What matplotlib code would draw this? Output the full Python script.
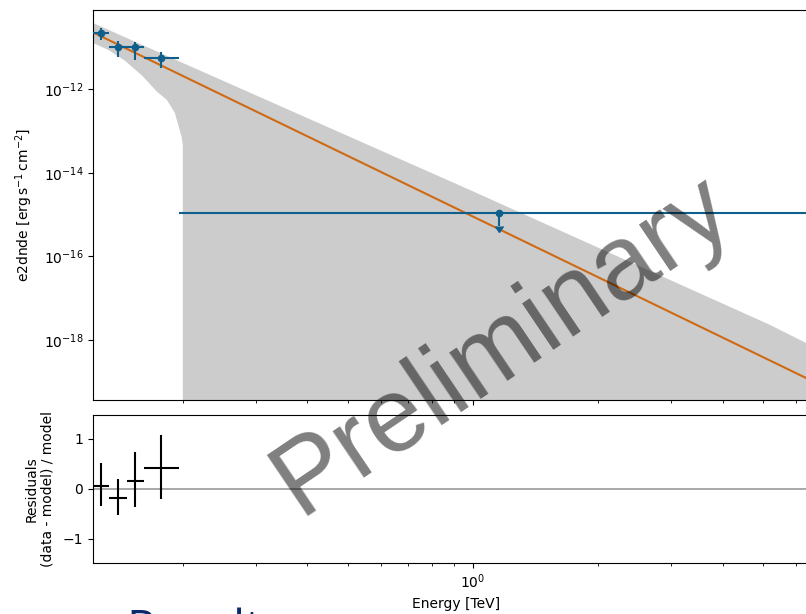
import matplotlib.pyplot as plt
import numpy as np

# flux point bins [TeV] and e2dnde values [erg s-1 cm-2]
e_min = np.array([0.1217, 0.1329, 0.1469, 0.1614])
e_max = np.array([0.1329, 0.1469, 0.1614, 0.1960])
e_ref = np.array([0.1272, 0.1397, 0.1540, 0.1779])
flux = np.array([2.19e-11, 1.01e-11, 1.04e-11, 5.53e-12])
flux_errp = np.array([0.70e-11, 0.43e-11, 0.30e-11, 2.43e-12])
flux_errn = np.array([0.67e-11, 0.41e-11, 0.54e-11, 2.35e-12])

# upper limit bin
ul_emin, ul_eref, ul_emax = 0.1960, 1.157, 6.83
ul_flux = 1.07e-15

# best-fit model and error butterfly
model_energy = np.array([0.1217, 6.83])
model_flux = np.array([2.3e-11, 8.6e-20])
band_up_energy = np.array([0.1217, 0.1971, 0.985, 5.21, 6.83])
band_up = np.array([3.87e-11, 4.58e-12, 3.87e-15, 2.26e-18, 5.86e-19])
band_lo_energy = np.array([0.1217, 0.1330, 0.1450, 0.1600, 0.1735, 0.1834, 0.1917,
                           0.1990, 0.2003, 0.2003, 6.83])
band_lo = np.array([1.29e-11, 8.6e-12, 4.9e-12, 2.1e-12, 8.77e-13, 5.54e-13, 2.70e-13,
                    7.2e-14, 4.6e-14, 1e-30, 1e-30])

# residuals (data - model) / model
resid = np.array([0.07, -0.18, 0.17, 0.43])
resid_errp = np.array([0.46, 0.38, 0.57, 0.66])
resid_errn = np.array([0.40, 0.33, 0.53, 0.62])

blue = "#0f5f8c"
orange = "#cf6a14"

plt.rcParams["font.size"] = 10

fig = plt.figure(figsize=(8.06, 6.14), dpi=100)
W, H = 806, 614
ax = fig.add_axes([93 / W, 1 - 400 / H, (819 - 93) / W, 390 / H])
ax_res = fig.add_axes([93 / W, 1 - 563 / H, (819 - 93) / W, 148 / H], sharex=ax)

ax.set_xscale("log")
ax.set_yscale("log")

# butterfly as a closed polygon
ax.fill(np.concatenate([band_up_energy, band_lo_energy[::-1]]),
        np.concatenate([band_up, band_lo[::-1]]),
        color="#cccccc", lw=0, zorder=1)
ax.plot(model_energy, model_flux, color=orange, lw=1.5, zorder=2)

ax.errorbar(e_ref, flux, xerr=[e_ref - e_min, e_max - e_ref],
            yerr=[flux_errn, flux_errp], fmt="o", ms=4.5, color=blue,
            elinewidth=1.5, capsize=0, zorder=3)
ax.errorbar([ul_eref], [ul_flux], xerr=[[ul_eref - ul_emin], [ul_emax - ul_eref]],
            yerr=[[0.5 * ul_flux], [0]], uplims=True, fmt="o", ms=4.5, color=blue,
            elinewidth=1.5, capsize=0, zorder=3)

ax.set_xlim(0.1217, 6.83)
ax.set_ylim(3.61e-20, 7.92e-11)
ax.set_yticks([1e-18, 1e-16, 1e-14, 1e-12])
ax.yaxis.set_minor_locator(plt.NullLocator())
ax.set_ylabel(r"e2dnde [$\mathrm{erg\,s^{-1}\,cm^{-2}}$]", labelpad=6)
ax.tick_params(labelbottom=False)

ax_res.axhline(0, color="#999999", lw=1.2, zorder=1)
ax_res.errorbar(e_ref, resid, xerr=[e_ref - e_min, e_max - e_ref],
                yerr=[resid_errn, resid_errp], fmt="none", color="black",
                elinewidth=1.5, zorder=2)
ax_res.set_ylim(-1.48, 1.48)
ax_res.set_yticks([-1, 0, 1])
ax_res.set_ylabel("Residuals\n(data - model) / model", labelpad=6)
ax_res.set_xlabel("Energy [TeV]")

fig.text(502 / W, 1 - 345 / H, "Preliminary", fontsize=76, family="Liberation Sans",
         color="black", alpha=0.5, rotation=34, ha="center", va="center", zorder=10)
fig.text(126 / W, 1 - 644 / H, "Results", fontsize=34, family="Open Sans",
         color="#0b2a6b", ha="left", va="baseline")

fig.savefig("out.png", dpi=100)
